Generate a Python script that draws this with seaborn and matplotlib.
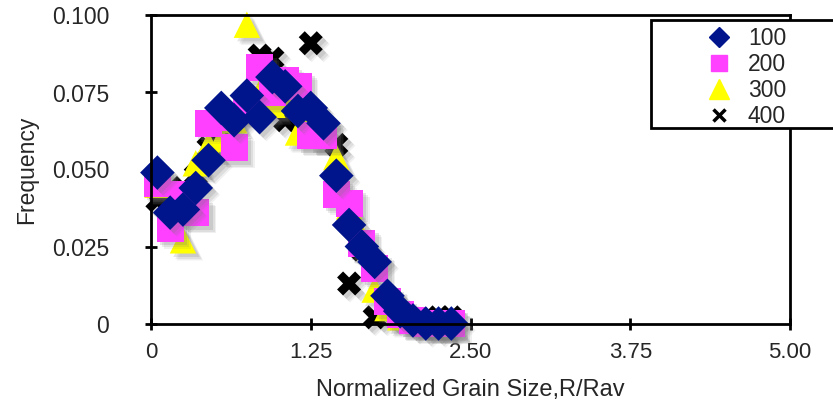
import matplotlib
matplotlib.use("Agg")
import matplotlib.pyplot as plt
import matplotlib.patheffects as pe
from matplotlib.lines import Line2D
from matplotlib.patches import Rectangle
import pandas as pd
import seaborn as sns

# Bin centres of the normalized grain size R/Rav
grain_size = [0.05, 0.15, 0.25, 0.35, 0.45, 0.55, 0.65, 0.75, 0.85, 0.95,
              1.05, 1.15, 1.25, 1.35, 1.45, 1.55, 1.65, 1.75, 1.85, 1.95,
              2.05, 2.15, 2.25, 2.35]

freq_100 = [0.049, 0.036, 0.037, 0.044, 0.053, 0.070, 0.066, 0.074, 0.067, 0.080,
            0.077, 0.069, 0.070, 0.065, 0.048, 0.032, 0.025, 0.020, 0.009, 0.004,
            0.001, 0.000, 0.000, 0.000]
freq_200 = [0.0455, 0.031, 0.042, 0.036, 0.065, 0.067, 0.057, 0.070, 0.083, 0.075,
            0.079, 0.077, 0.061, 0.061, 0.042, 0.039, 0.026, 0.018, 0.007, 0.003,
            0.001, 0.000, 0.000, 0.000]
freq_300 = [0.045, 0.034, 0.027, 0.052, 0.058, 0.060, 0.066, 0.097, 0.075, 0.071,
            0.072, 0.062, 0.066, 0.061, 0.054, 0.038, 0.028, 0.011, 0.005, 0.002,
            0.001, 0.001, 0.000, 0.000]
freq_400 = [0.040, 0.038, 0.044, 0.048, 0.057, 0.062, 0.068, 0.070, 0.087, 0.086,
            0.066, 0.070, 0.091, 0.064, 0.058, 0.013, 0.024, 0.002, 0.006, 0.002,
            0.001, 0.001, 0.002, 0.002]

series_names = ["100", "200", "300", "400"]
series_values = [freq_100, freq_200, freq_300, freq_400]

x_ticks = [0, 1.25, 2.5, 3.75, 5.0]
x_tick_labels = ["0", "1.25", "2.50", "3.75", "5.00"]
y_ticks = [0, 0.025, 0.05, 0.075, 0.1]
y_tick_labels = ["0", "0.025", "0.050", "0.075", "0.100"]

records = []
for name, vals in zip(series_names, series_values):
    for x, f in zip(grain_size, vals):
        records.append({"size": x, "freq": f, "series": name})
df = pd.DataFrame(records)

sns.set_theme(style="white")
plt.rcParams["font.family"] = ["Liberation Sans", "DejaVu Sans"]

fig = plt.figure(figsize=(8.33, 4.11), dpi=100)
ax = fig.add_axes([151 / 833, 87.5 / 411, 639 / 833, 308 / 411])

styles = {
    "100": dict(marker="D", color="#00148C", s=310),
    "200": dict(marker="s", color="#FF40FF", s=380),
    "300": dict(marker="^", color="#FFFF00", s=360),
    "400": dict(marker="X", color="#000000", s=300),
}

shadow = [
    pe.SimplePatchShadow(offset=(5, -5), shadow_rgbFace="0.45", alpha=0.10),
    pe.SimplePatchShadow(offset=(4, -4), shadow_rgbFace="0.45", alpha=0.14),
    pe.SimplePatchShadow(offset=(2.5, -2.5), shadow_rgbFace="0.45", alpha=0.18),
    pe.Normal(),
]

# Later series underneath, first series on top
for name in ["400", "300", "200", "100"]:
    st = styles[name]
    sub = df[df["series"] == name]
    sns.scatterplot(data=sub, x="size", y="freq", ax=ax, marker=st["marker"],
                    color=st["color"], s=st["s"], linewidth=0, legend=False,
                    clip_on=False)
    ax.collections[-1].set_path_effects(shadow)

ax.set_xlim(0, 5.0)
ax.set_ylim(0, 0.1)
ax.set_xticks(x_ticks)
ax.set_xticklabels(x_tick_labels, fontsize=16)
ax.set_yticks(y_ticks)
ax.set_yticklabels(y_tick_labels, fontsize=16.5)
ax.tick_params(axis="both", which="major", direction="inout", length=8, width=2,
               color="black", bottom=True, left=True, top=False, right=False)
ax.tick_params(axis="x", pad=9.5)
ax.tick_params(axis="y", pad=26)

for sp in ax.spines.values():
    sp.set_visible(True)
    sp.set_color("black")
    sp.set_linewidth(2)

ax.set_xlabel("Normalized Grain Size,R/Rav", fontsize=17, labelpad=11)
ax.set_ylabel("Frequency", fontsize=16.5, labelpad=10)

# Legend box
box = Rectangle((651 / 833, 1 - 128 / 411), 200 / 833, 108 / 411,
                transform=fig.transFigure, facecolor="white", edgecolor="black",
                linewidth=2, zorder=5, clip_on=False)
fig.patches.append(box)

handles = [
    Line2D([], [], linestyle="none", marker="D", markersize=10.5, color="#00148C"),
    Line2D([], [], linestyle="none", marker="s", markersize=12, color="#FF40FF"),
    Line2D([], [], linestyle="none", marker="^", markersize=14, color="#FFFF00"),
    Line2D([], [], linestyle="none", marker="x", markersize=8, color="black",
           markeredgewidth=2.5),
]
leg = fig.legend(handles, series_names, loc="center left",
                 bbox_to_anchor=(702 / 833, 1 - 77.5 / 411), frameon=False,
                 fontsize=16.5, borderpad=0, borderaxespad=0, handlelength=1.5,
                 handletextpad=0.5, labelspacing=0.12)
leg.set_zorder(6)

fig.savefig("out.png", dpi=100)
